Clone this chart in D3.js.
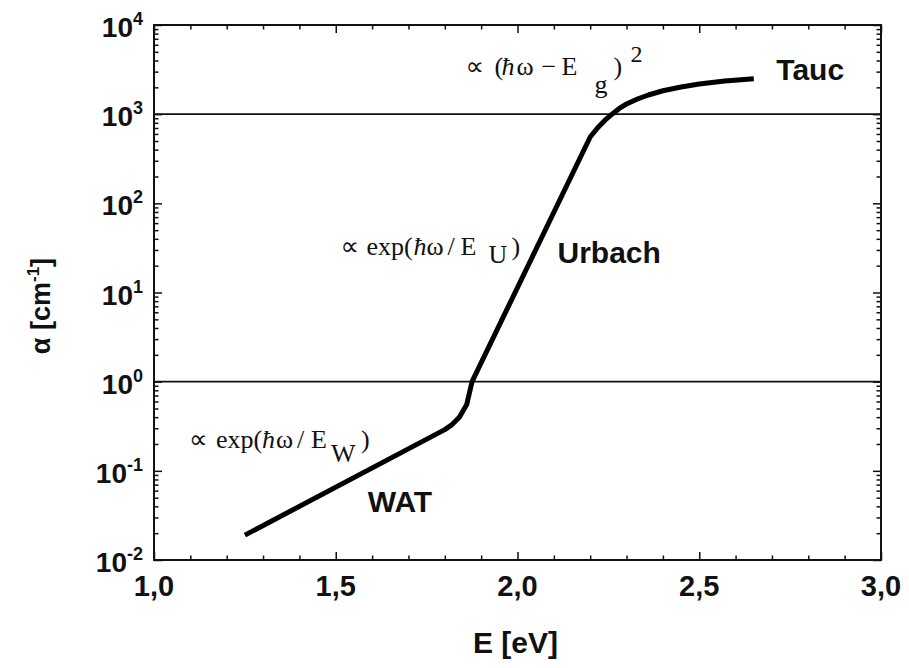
<!DOCTYPE html>
<html>
<head>
<meta charset="utf-8">
<script src="https://cdn.jsdelivr.net/npm/d3@7/dist/d3.min.js"></script>
<style>
  html, body { margin: 0; padding: 0; background: #fff; }
  svg { display: block; }
  .bold { font-family: "Liberation Sans", Arial, sans-serif; font-weight: bold; fill: #111; }
  .serif { font-family: "Liberation Serif", "Times New Roman", serif; fill: #111; }
</style>
</head>
<body>
<svg id="chart" width="909" height="668"></svg>
<script>
// Absorption edge: photon energy (eV) vs absorption coefficient (cm^-1)
const energy = [1.25, 1.80, 1.82, 1.84, 1.86, 1.875, 2.20, 2.22, 2.24, 2.26, 2.28, 2.30, 2.33, 2.36, 2.40, 2.45, 2.50, 2.57, 2.65];
const alpha  = [0.019, 0.29, 0.33, 0.40, 0.55, 1.0, 555, 700, 850, 1000, 1160, 1300, 1480, 1640, 1830, 2020, 2180, 2350, 2500];

// Horizontal reference levels separating the regimes
const levels = [1, 1000];

// Axis ticks
const xTicks = [1.0, 1.5, 2.0, 2.5, 3.0];
const xTickLabels = ["1,0", "1,5", "2,0", "2,5", "3,0"];
const yExponents = [-2, -1, 0, 1, 2, 3, 4];

// Regime names, anchored in data coordinates (energy, log10 alpha)
const regimeNames = ["Tauc", "Urbach", "WAT"];
const regimeAnchors = [[2.712, 3.383], [2.110, 1.332], [1.588, -1.46]];

const margin = { left: 154, right: 909 - 881, top: 25, bottom: 668 - 560 };
const W = 909, H = 668;

const svg = d3.select("#chart");

const x = d3.scaleLinear().domain([1, 3]).range([margin.left, W - margin.right]);
const y = d3.scaleLog().domain([1e-2, 1e4]).range([H - margin.bottom, margin.top]);

const x0 = x.range()[0], x1 = x.range()[1];
const yb = y.range()[0], yt = y.range()[1];

// Regime boundary lines
svg.append("g").selectAll("line").data(levels).join("line")
  .attr("x1", x0).attr("x2", x1)
  .attr("y1", d => y(d)).attr("y2", d => y(d))
  .attr("stroke", "#111").attr("stroke-width", 1.6);

// Absorption curve
const pts = energy.map((e, i) => [e, alpha[i]]);
svg.append("path")
  .datum(pts)
  .attr("fill", "none")
  .attr("stroke", "#000")
  .attr("stroke-width", 5)
  .attr("stroke-linejoin", "round")
  .attr("stroke-linecap", "butt")
  .attr("d", d3.line().x(d => x(d[0])).y(d => y(d[1])));

// Axes: ticks point inward on all four sides
const majorLen = 8, minorLen = 4.5;
const xMinor = d3.range(10, 31).map(v => v / 10).filter(v => !xTicks.some(t => Math.abs(t - v) < 1e-9));
const yMinor = [];
for (let e = -2; e < 4; e++) for (let m = 2; m <= 9; m++) yMinor.push(m * Math.pow(10, e));

const axisStyle = g => {
  g.select(".domain").remove();
  g.selectAll(".tick line").attr("stroke", "#111").attr("stroke-width", 1.5);
  g.selectAll(".tick text").remove();
};

svg.append("g").attr("transform", `translate(0,${yb})`)
  .call(d3.axisBottom(x).tickValues(xTicks).tickSize(-majorLen)).call(axisStyle);
svg.append("g").attr("transform", `translate(0,${yb})`)
  .call(d3.axisBottom(x).tickValues(xMinor).tickSize(-minorLen)).call(axisStyle);
svg.append("g").attr("transform", `translate(0,${yt})`)
  .call(d3.axisTop(x).tickValues(xTicks).tickSize(-majorLen)).call(axisStyle);
svg.append("g").attr("transform", `translate(0,${yt})`)
  .call(d3.axisTop(x).tickValues(xMinor).tickSize(-minorLen)).call(axisStyle);

const yMajor = yExponents.map(e => Math.pow(10, e));
svg.append("g").attr("transform", `translate(${x0},0)`)
  .call(d3.axisLeft(y).tickValues(yMajor).tickSize(-majorLen)).call(axisStyle);
svg.append("g").attr("transform", `translate(${x0},0)`)
  .call(d3.axisLeft(y).tickValues(yMinor).tickSize(-minorLen)).call(axisStyle);
svg.append("g").attr("transform", `translate(${x1},0)`)
  .call(d3.axisRight(y).tickValues(yMajor).tickSize(-majorLen)).call(axisStyle);
svg.append("g").attr("transform", `translate(${x1},0)`)
  .call(d3.axisRight(y).tickValues(yMinor).tickSize(-minorLen)).call(axisStyle);

// Frame
svg.append("rect")
  .attr("x", x0).attr("y", yt).attr("width", x1 - x0).attr("height", yb - yt)
  .attr("fill", "none").attr("stroke", "#111").attr("stroke-width", 2);

// X tick labels
svg.append("g").selectAll("text").data(xTicks).join("text")
  .attr("class", "bold")
  .attr("x", d => x(d)).attr("y", yb + 36)
  .attr("text-anchor", "middle").attr("font-size", 29)
  .text((d, i) => xTickLabels[i]);

// Y tick labels as powers of ten
const yl = svg.append("g").selectAll("text").data(yExponents).join("text")
  .attr("class", "bold")
  .attr("x", x0 - 11).attr("y", d => y(Math.pow(10, d)) + 12)
  .attr("text-anchor", "end").attr("font-size", 28);
yl.append("tspan").text("10");
yl.append("tspan").attr("dy", -12).attr("font-size", 18).text(d => String(d));

// Axis titles
svg.append("text").attr("class", "bold")
  .attr("x", (x0 + x1) / 2 - 2).attr("y", 653)
  .attr("text-anchor", "middle").attr("font-size", 30)
  .text("E [eV]");

const yt2 = svg.append("text").attr("class", "bold")
  .attr("transform", "translate(50,306) rotate(-90)")
  .attr("text-anchor", "middle").attr("font-size", 27);
yt2.append("tspan").text("α [cm");
yt2.append("tspan").attr("dy", -11).attr("font-size", 17).text("-1");
yt2.append("tspan").attr("dy", 11).text("]");

// Regime names
svg.append("g").selectAll("text").data(regimeNames).join("text")
  .attr("class", "bold")
  .attr("x", (d, i) => x(regimeAnchors[i][0]))
  .attr("y", (d, i) => y(Math.pow(10, regimeAnchors[i][1])))
  .attr("font-size", 30)
  .text(d => d);

// Absorption laws; each piece: [text, dx, dy, size, italic, family]
const SYM = "DejaVu Sans";
const formulas = [
  { at: [1.860, 3.44], parts: [
      ["∝", -1, 0, 26, false, SYM], ["(", 28, 0], ["ħ", 35, 0, 0, true], ["ω", 50, 0], ["−", 75, 0],
      ["E", 95, 0], ["g", 128, 18], [")", 147, 0], ["2", 164, -13, 24] ] },
  { at: [1.516, 1.422], parts: [
      ["∝", -1, 0, 26, false, SYM], ["exp(", 25, 0], ["ħ", 72, 0, 0, true], ["ω", 85, 0], ["/", 106, 0],
      ["E", 119, 0], ["U", 147, 8], [")", 170, 0] ] },
  { at: [1.099, -0.742], parts: [
      ["∝", -1, 0, 26, false, SYM], ["exp(", 26, 0], ["ħ", 72, 0, 0, true], ["ω", 86, 0], ["/", 107, 0],
      ["E", 121, 0], ["W", 141, 14], [")", 171, 0] ] }
];

formulas.forEach(f => {
  const ax = x(f.at[0]), ay = y(Math.pow(10, f.at[1]));
  const t = svg.append("text").attr("class", "serif").attr("font-size", 26);
  f.parts.forEach(p => {
    const s = t.append("tspan")
      .attr("x", ax + p[1]).attr("y", ay + p[2])
      .text(p[0]);
    if (p[3]) s.attr("font-size", p[3]);
    if (p[4]) s.attr("font-style", "italic");
    if (p[5]) s.attr("font-family", p[5]).attr("font-weight", "normal");
  });
});
</script>
</body>
</html>
